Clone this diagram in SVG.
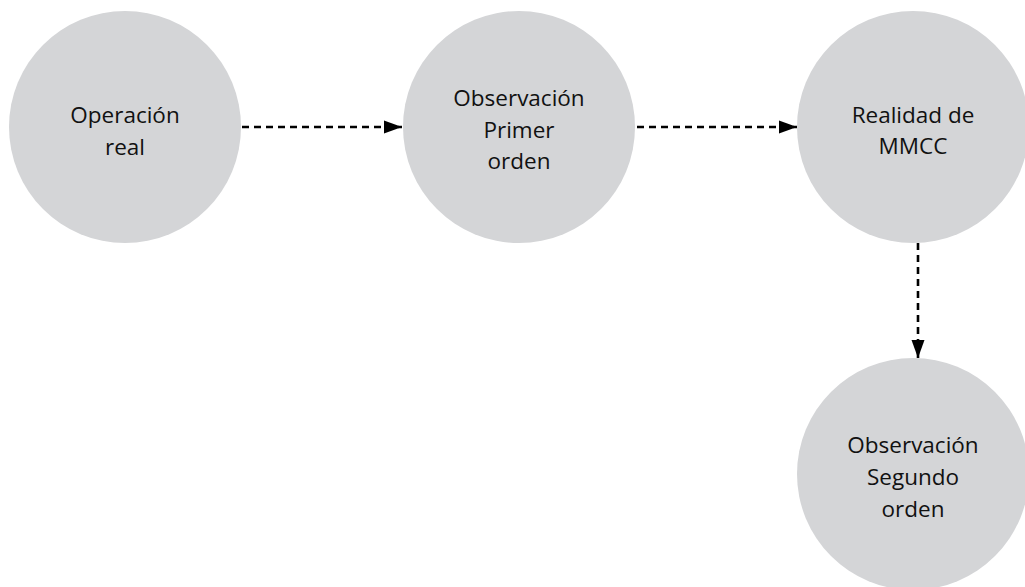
<svg xmlns="http://www.w3.org/2000/svg" width="1025" height="587" viewBox="0 0 1025 587">
  <style>
    .node { fill: #d4d5d7; }
    .lbl { font-family: "Open Sans", "Liberation Sans", sans-serif; font-size: 22.5px; fill: #111111; text-anchor: middle; }
    .edge { stroke: #000000; stroke-width: 2.6; stroke-dasharray: 7 5; fill: none; }
  </style>
  <defs>
    <marker id="arrow" markerUnits="userSpaceOnUse" markerWidth="20" markerHeight="14" refX="18" refY="7" orient="auto">
      <polygon points="0,0.5 18,7 0,13.5" fill="#000000"/>
    </marker>
  </defs>
  <rect width="1025" height="587" fill="#ffffff"/>
  <g id="n1">
    <circle class="node" cx="125" cy="127" r="116"/>
    <text class="lbl" x="125" y="123">Operación</text>
    <text class="lbl" x="125" y="155">real</text>
  </g>
  <g id="n2">
    <circle class="node" cx="519" cy="127" r="116"/>
    <text class="lbl" x="519" y="106">Observación</text>
    <text class="lbl" x="519" y="137.5">Primer</text>
    <text class="lbl" x="519" y="169">orden</text>
  </g>
  <g id="n3">
    <circle class="node" cx="913" cy="127" r="116"/>
    <text class="lbl" x="913" y="123">Realidad de</text>
    <text class="lbl" x="913" y="154">MMCC</text>
  </g>
  <g id="n4">
    <circle class="node" cx="913" cy="474" r="116"/>
    <text class="lbl" x="913" y="453">Observación</text>
    <text class="lbl" x="913" y="485">Segundo</text>
    <text class="lbl" x="913" y="517">orden</text>
  </g>
  <g id="connectors">
    <line class="edge" x1="242" y1="127" x2="402" y2="127" marker-end="url(#arrow)"/>
    <line class="edge" x1="637" y1="127" x2="797" y2="127" marker-end="url(#arrow)"/>
    <line class="edge" x1="918" y1="243" x2="918" y2="358" marker-end="url(#arrow)"/>
  </g>
</svg>
